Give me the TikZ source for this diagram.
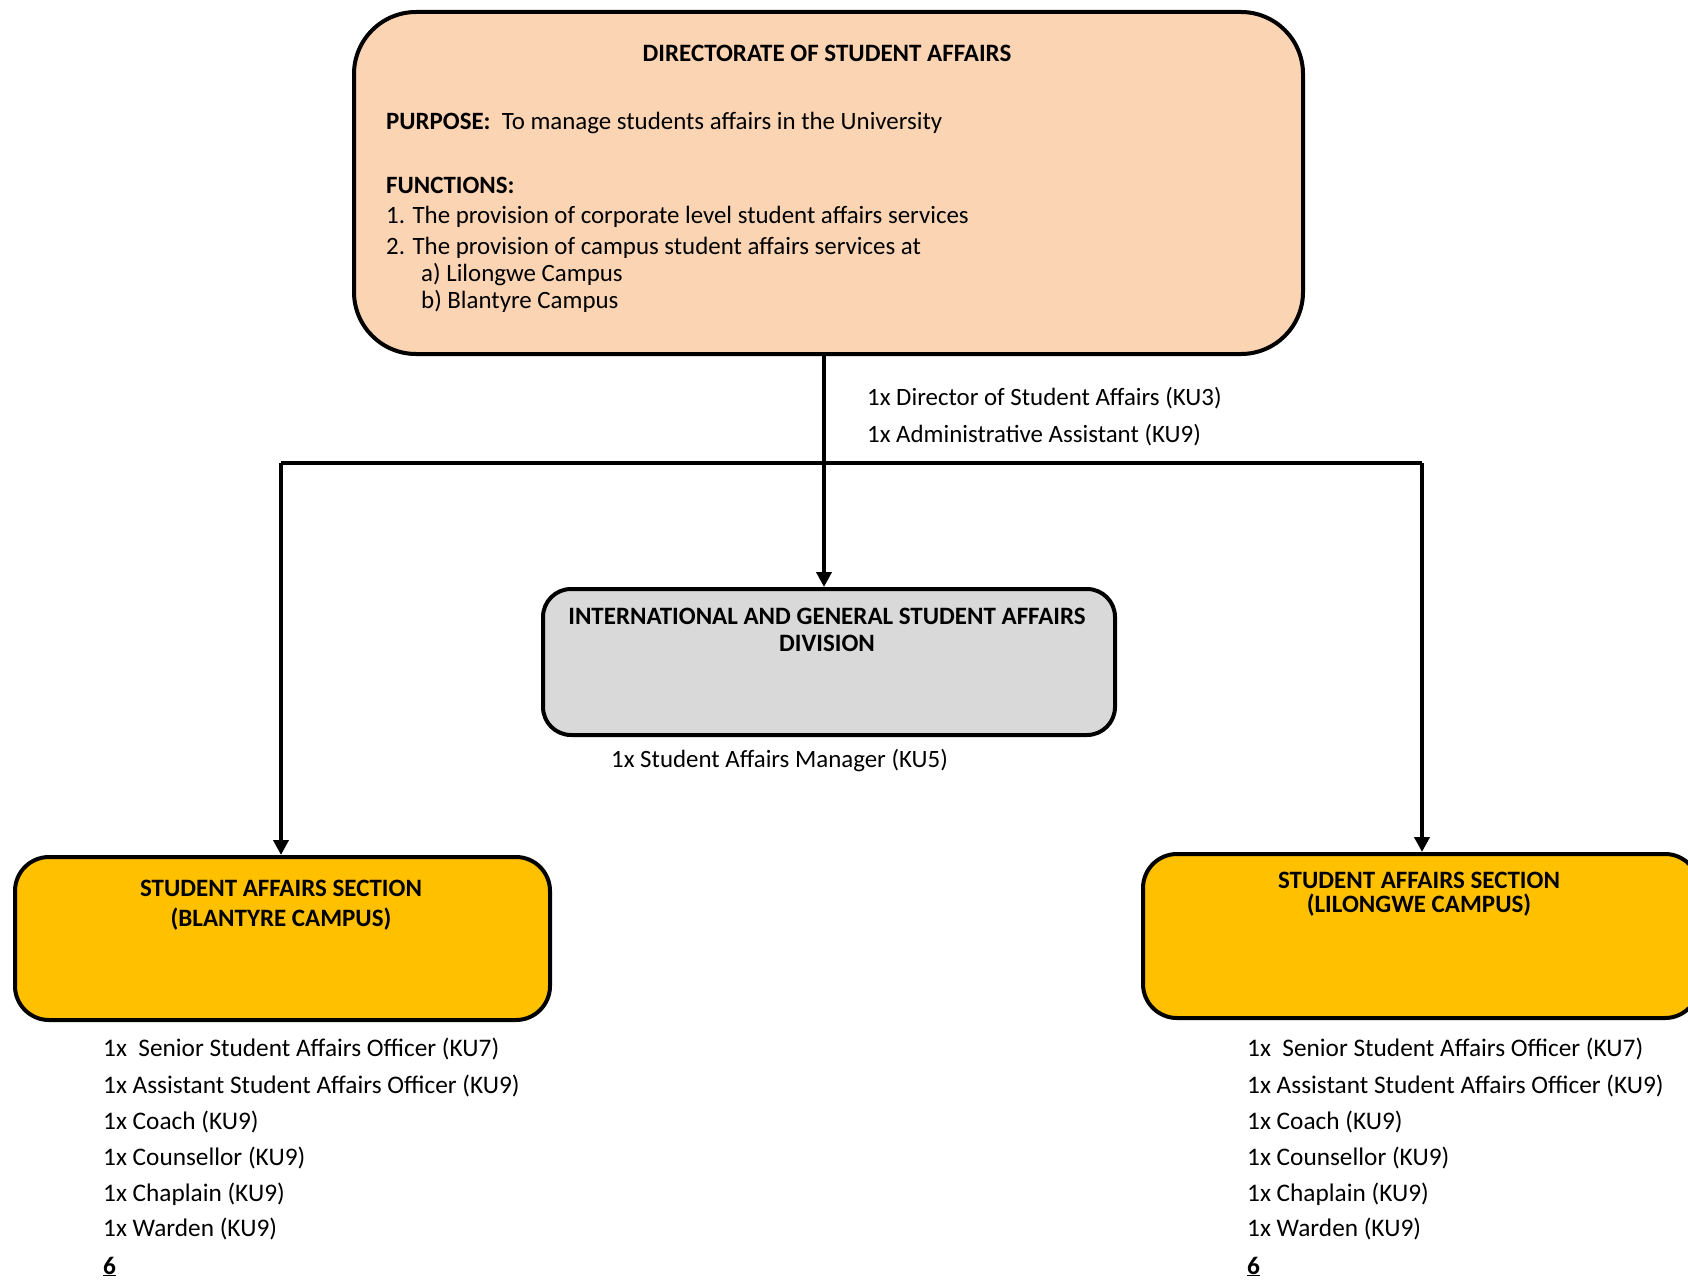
\documentclass[tikz,border=0pt]{standalone}
\usepackage{fontspec}
\setmainfont{Carlito}
\usetikzlibrary{arrows.meta}
\definecolor{peach}{HTML}{FBD4B4}
\definecolor{greyfill}{HTML}{D9D9D9}
\definecolor{gold}{HTML}{FFC000}
\begin{document}
\begin{tikzpicture}[x=1pt,y=-1pt,
  unitbox/.style={draw=black,line width=4pt,anchor=north west,inner sep=0pt},
  conn/.style={draw=black,line width=4pt},
  arr/.style={conn,-{Triangle[width=15pt,length=15pt]}},
  txt/.style={anchor=base west,inner sep=0pt,font=\fontsize{25.3}{36}\selectfont},
  dtxt/.style={anchor=base west,inner sep=0pt,font=\fontsize{24.9}{36}\selectfont},
  ctxt/.style={anchor=base,inner sep=0pt,font=\fontsize{25}{36}\selectfont\bfseries},
  ]
\useasboundingbox[fill=white] (0,0) rectangle (1688,1279);
\clip (0,0) rectangle (1688,1279);
% boxes
\node[unitbox,fill=peach,rounded corners=62pt,minimum width=949pt,minimum height=342pt] (dir) at (352,10) {};
\node[unitbox,fill=greyfill,rounded corners=28pt,minimum width=572pt,minimum height=146pt] (mid) at (541,587) {};
\node[unitbox,fill=gold,rounded corners=34pt,minimum width=535pt,minimum height=163pt] (bl) at (13,855) {};
\node[unitbox,fill=gold,rounded corners=34pt,minimum width=556pt,minimum height=164pt] (li) at (1141,852) {};
% directorate texts
\node[ctxt] (dirT) at (827,62) {DIRECTORATE OF STUDENT AFFAIRS};
\node[dtxt] (dirP) at (386,130) {\textbf{PURPOSE:}\ \ To manage students affairs in the University};
\node[dtxt] (dirF) at (386,193) {\textbf{FUNCTIONS:}};
\node[dtxt] (dirF1) at (386,223) {1. The provision of corporate level student affairs services};
\node[dtxt] (dirF2) at (386,254) {2. The provision of campus student affairs services at};
\node[dtxt] (dirFa) at (421,281) {a) Lilongwe Campus};
\node[dtxt] (dirFb) at (421,308) {b) Blantyre Campus};
\node[dtxt] (dirS1) at (867,405) {1x Director of Student Affairs (KU3)};
\node[dtxt] (dirS2) at (867,442) {1x Administrative Assistant (KU9)};
% middle
\node[ctxt] (midT1) at (827,624) {INTERNATIONAL AND GENERAL STUDENT AFFAIRS};
\node[ctxt] (midT2) at (827,651) {DIVISION};
\node[dtxt] (midS) at (611,767) {1x Student Affairs Manager (KU5)};
% left
\node[ctxt] (blT1) at (281,896) {STUDENT AFFAIRS SECTION};
\node[ctxt] (blT2) at (281,926) {(BLANTYRE CAMPUS)};
% right
\node[ctxt] (liT1) at (1419,888) {STUDENT AFFAIRS SECTION};
\node[ctxt] (liT2) at (1419,912) {(LILONGWE CAMPUS)};
% staff lists
\foreach \xx/\nm in {103/bs,1247/ls}{
  \node[txt] (\nm1) at (\xx,1056) {1x\ \ Senior Student Affairs Officer (KU7)};
  \node[txt] (\nm2) at (\xx,1093) {1x Assistant Student Affairs Officer (KU9)};
  \node[txt] (\nm3) at (\xx,1129) {1x Coach (KU9)};
  \node[txt] (\nm4) at (\xx,1165) {1x Counsellor (KU9)};
  \node[txt] (\nm5) at (\xx,1201) {1x Chaplain (KU9)};
  \node[txt] (\nm6) at (\xx,1236) {1x Warden (KU9)};
  \node[txt] (\nm7) at (\xx,1274) {\underline{\textbf{6}}};
}
% connectors
\coordinate (jl) at (281,463);
\coordinate (jr) at (1422,463);
\draw[conn] (jl) -- (jr);
\draw[arr] (dir.south -| 824,0) -- (mid.north -| 824,0);
\draw[arr] (jl) -- (jl |- bl.north);
\draw[arr] (jr) -- (jr |- li.north);
\end{tikzpicture}
\end{document}
